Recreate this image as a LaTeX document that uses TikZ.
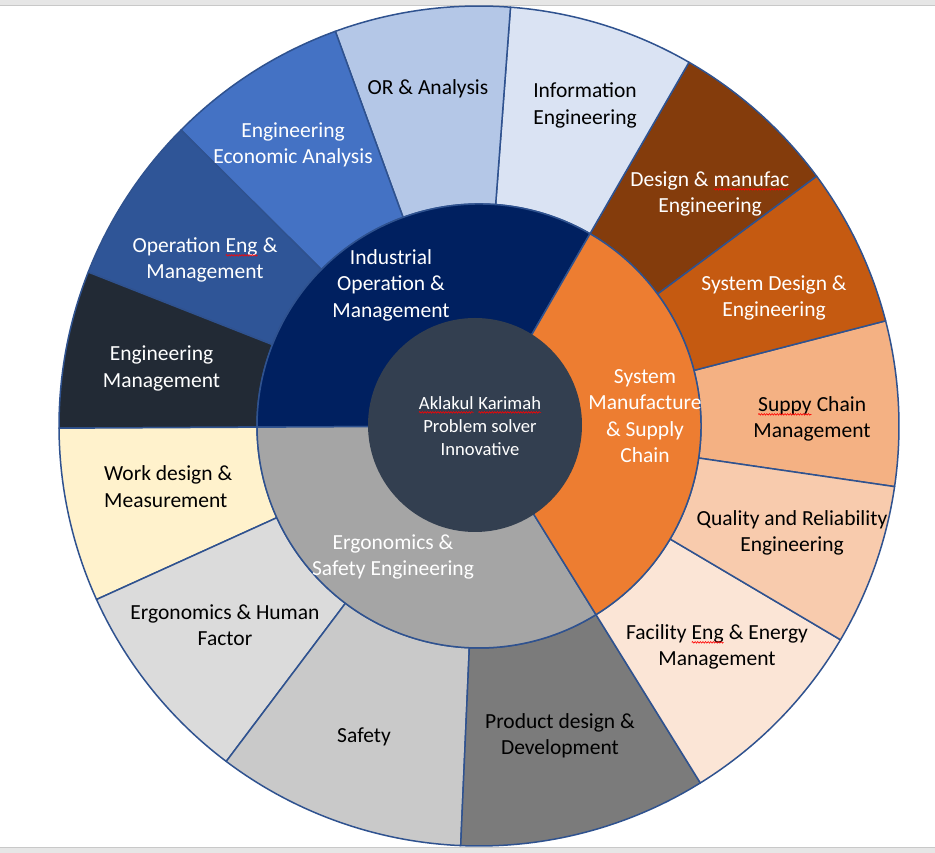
\documentclass[tikz,border=0pt]{standalone}
\usepackage{fontspec}
\setmainfont{Carlito}
\usetikzlibrary{decorations.pathmorphing}
\newcommand\spell[1]{\tikz[baseline=(sw.base)]{\node[inner sep=0pt, outer sep=0pt, anchor=base] (sw) {#1};\draw[red, line width=0.6pt, decorate, decoration={snake, amplitude=0.8pt, segment length=2.6pt}] ([yshift=-3pt]sw.base west) -- ([yshift=-3pt]sw.base east);}}
\definecolor{segblue}{HTML}{2F528F}
\definecolor{bandgray}{HTML}{E6E6E6}
\definecolor{bandline}{HTML}{C8C8C8}
\definecolor{cInner}{HTML}{333F50}
\definecolor{cNavy}{HTML}{002060}
\definecolor{cOrange}{HTML}{ED7D31}
\definecolor{cGray}{HTML}{A5A5A5}
\definecolor{cSupply}{HTML}{F4B183}
\definecolor{cSysDes}{HTML}{C55A11}
\definecolor{cDesMan}{HTML}{843C0C}
\definecolor{cInfo}{HTML}{DAE3F3}
\definecolor{cOR}{HTML}{B4C7E7}
\definecolor{cEcon}{HTML}{4472C4}
\definecolor{cOper}{HTML}{2F5597}
\definecolor{cEngMan}{HTML}{222A35}
\definecolor{cWork}{HTML}{FFF2CC}
\definecolor{cErgo}{HTML}{DBDBDB}
\definecolor{cSafety}{HTML}{C9C9C9}
\definecolor{cProd}{HTML}{7B7B7B}
\definecolor{cFacil}{HTML}{FBE5D6}
\definecolor{cQual}{HTML}{F8CBAD}
\def\rmid{222pt}
\def\rout{420pt}
\newcommand\outerseg[3]{\filldraw[segline, fill=#3] (#1:\rmid) -- (#1:\rout) arc[start angle=#1, end angle=#2, radius=\rout] -- (#2:\rmid) arc[start angle=#2, end angle=#1, radius=\rmid] -- cycle;}
\newcommand\midseg[3]{\filldraw[segline, fill=#3] (0,0) -- (#1:\rmid) arc[start angle=#1, end angle=#2, radius=\rmid] -- cycle;}
\begin{document}
\begin{tikzpicture}[x=1pt,y=1pt,
  segline/.style={draw=segblue, line width=1.5pt, line join=round},
  lbl/.style={font=\fontsize{21.5}{26.5}\selectfont, align=center, inner sep=0pt, text=black},
  wlbl/.style={lbl, text=white}]
\useasboundingbox (0,0) rectangle (935,853);
\fill[white] (0,0) rectangle (935,853);
\fill[bandgray] (0,847) rectangle (935,853);
\draw[bandline, line width=1pt] (0,847) -- (935,847);
\fill[bandgray] (0,0) rectangle (935,5);
\draw[bandline, line width=1pt] (0,5) -- (935,5);
\begin{scope}[shift={(479,427)}]
  \outerseg{-8.3}{14.5}{cSupply}
  \outerseg{14.5}{36.5}{cSysDes}
  \outerseg{36.5}{60}{cDesMan}
  \outerseg{60}{85.7}{cInfo}
  \outerseg{85.7}{110}{cOR}
  \outerseg{110}{135.2}{cEcon}
  \outerseg{135.2}{158.5}{cOper}
  \outerseg{158.5}{180.3}{cEngMan}
  \outerseg{180.3}{204.4}{cWork}
  \outerseg{204.4}{233}{cErgo}
  \outerseg{233}{267.5}{cSafety}
  \outerseg{267.5}{301.8}{cProd}
  \outerseg{301.8}{329.4}{cFacil}
  \outerseg{329.4}{351.7}{cQual}
  \midseg{60}{180.3}{cNavy}
  \midseg{180.3}{301.8}{cGray}
  \midseg{-58.2}{60}{cOrange}
\end{scope}
\fill[cInner] (475,428) circle[radius=107pt];
% outer labels
\node[lbl] (or) at (428,764) {OR \& Analysis};
\node[lbl] (info) at (585,747.5) {Information\\Engineering};
\node[wlbl] (desman) at (710,659) {Design \& \spell{manufac}\\Engineering};
\node[wlbl] (sysdes) at (774,555) {System Design \&\\Engineering};
\node[lbl] (supply) at (812,434) {\spell{Suppy} Chain\\Management};
\node[lbl] (qual) at (792,320) {Quality and Reliability\\Engineering};
\node[lbl] (facil) at (717,206) {Facility \spell{Eng} \& Energy\\Management};
\node[lbl] (prod) at (560,117) {Product design \&\\Development};
\node[lbl] (safety) at (364,116) {Safety};
\node[lbl] (ergo) at (225,228) {Ergonomics \& Human\\Factor};
\node[lbl, align=left, anchor=west] (work) at (104,366.5) {Work design \&\\Measurement};
\node[wlbl] (engman) at (161.5,484.5) {Engineering\\Management};
\node[wlbl] (oper) at (205,593) {Operation \spell{Eng} \&\\Management};
\node[wlbl] (econ) at (293,708) {Engineering\\Economic Analysis};
% middle labels
\node[wlbl] (indus) at (391,568) {Industrial\\Operation \&\\Management};
\node[wlbl] (sysman) at (645,437) {System\\Manufacture\\\& Supply\\Chain};
\node[wlbl] (ergsaf) at (393,296) {Ergonomics \&\\Safety Engineering};
% centre
\node[wlbl, font=\fontsize{18.6}{23}\selectfont] (centre) at (480,427) {\spell{Aklakul} \spell{Karimah}\\Problem solver\\Innovative};
\end{tikzpicture}
\end{document}
